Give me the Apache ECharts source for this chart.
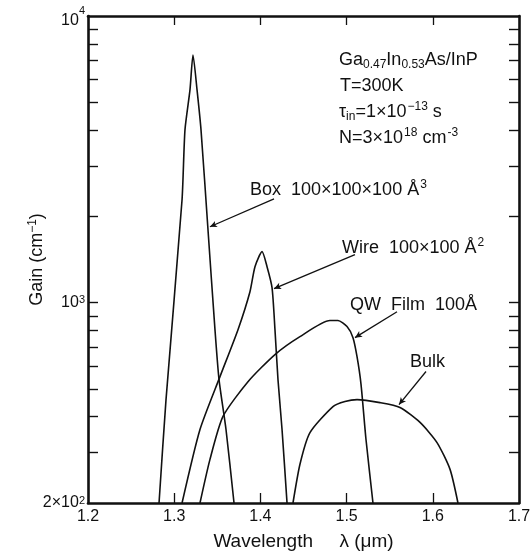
<!DOCTYPE html>
<html>
<head>
<meta charset="utf-8">
<script src="https://cdn.jsdelivr.net/npm/echarts@6/dist/echarts.min.js"></script>
<style>
html, body { margin: 0; padding: 0; background: #fff; }
#chart { width: 531px; height: 551px; }
</style>
</head>
<body>
<div id="chart"></div>
<script>
// Gain spectra, wavelength in µm, gain in cm^-1
const boxWavelength = [1.2824, 1.2905, 1.3091, 1.3125, 1.3183, 1.3218, 1.3265, 1.3311, 1.3392, 1.3473, 1.3520, 1.3601, 1.3694];
const boxGain       = [200, 459, 2285, 4006, 5522, 7310, 5522, 4006, 1796, 805, 539, 361, 200];

const wireWavelength = [1.3091, 1.3299, 1.3531, 1.3740, 1.3879, 1.3937, 1.4019, 1.4077, 1.4135, 1.4169, 1.4204, 1.4251, 1.4309];
const wireGain       = [200, 361, 552, 805, 1092, 1335, 1506, 1335, 1128, 805, 539, 361, 200];

const filmWavelength = [1.3299, 1.3415, 1.3566, 1.3856, 1.4169, 1.4459, 1.4807, 1.4900, 1.5005, 1.5074, 1.5121, 1.5167, 1.5225, 1.5306];
const filmGain       = [200, 284, 401, 530, 659, 761, 866, 866, 825, 755, 648, 520, 333, 200];

const bulkWavelength = [1.4378, 1.4459, 1.4575, 1.4842, 1.4981, 1.5121, 1.5387, 1.5619, 1.5852, 1.6049, 1.6200, 1.6292];
const bulkGain       = [200, 273, 352, 434, 452, 459, 448, 431, 382, 325, 262, 200];

// Axis ticks
const xTickValues = [1.2, 1.3, 1.4, 1.5, 1.6, 1.7];
const yTickValues = [200, 300, 400, 500, 600, 700, 800, 900, 1000, 2000, 3000, 4000, 5000, 6000, 7000, 8000, 9000, 10000];
const yLabelValues = [200, 1000, 10000];
const yLabelText = ['2×10{sup|2}', '10{sup|3}', '{low|10}{lowsup|4}'];

// Pointer lines from each caption to its curve: [tip, tail] as [λ, gain]
const boxPointer  = [[1.3415, 1840], [1.4158, 2303]];
const wirePointer = [[1.4158, 1119], [1.5097, 1470]];
const filmPointer = [[1.5097, 755],  [1.5585, 930]];
const bulkPointer = [[1.5608, 441],  [1.5921, 575]];

const FONT = 'Liberation Sans';
const INK = '#111';

function pairs(xs, ys) { return xs.map((x, i) => [x, ys[i]]); }

function pointer(p) {
  return {
    silent: true,
    symbol: ['arrow', 'none'],
    symbolSize: [5, 7],
    label: { show: false },
    lineStyle: { color: INK, width: 1.3, type: 'solid' },
    emphasis: { disabled: true },
    animation: false,
    data: [[{ coord: p[0] }, { coord: p[1] }]]
  };
}

function curve(name, xs, ys, p) {
  return {
    name: name,
    type: 'line',
    data: pairs(xs, ys),
    showSymbol: false,
    smooth: 0.22,
    clip: true,
    lineStyle: { color: INK, width: 1.6 },
    itemStyle: { color: INK },
    markLine: pointer(p),
    animation: false
  };
}

const CAP_SIZE = 18;
const SMALL = 12;

function caption(x, y, text) {
  return {
    type: 'text',
    x: x, y: y,
    style: {
      text: text,
      fontFamily: FONT, fontSize: CAP_SIZE, fill: INK,
      lineHeight: 22,
      verticalAlign: 'middle',
      rich: {
        sup: { fontFamily: FONT, fontSize: SMALL, verticalAlign: 'top', lineHeight: 11, fill: INK, padding: [0, 0, 0, 1] },
        sub: { fontFamily: FONT, fontSize: SMALL, verticalAlign: 'bottom', lineHeight: 11, fill: INK }
      }
    },
    silent: true
  };
}

const chart = echarts.init(document.getElementById('chart'), null, { renderer: 'canvas' });

const axisLineStyle = { color: INK, width: 2.6 };

chart.setOption({
  backgroundColor: '#fff',
  animation: false,
  grid: { left: 88, right: 12, top: 16, bottom: 48, containLabel: false, outerBoundsMode: 'none' },
  xAxis: [
    {
      type: 'value', position: 'bottom', min: 1.2, max: 1.7, interval: 0.1,
      axisLine: { show: true, onZero: false, lineStyle: axisLineStyle },
      axisTick: { show: true, inside: true, length: 10, lineStyle: { color: INK, width: 1.3 }, customValues: xTickValues.slice(1, -1) },
      axisLabel: {
        show: true, margin: 6, color: INK, fontFamily: FONT, fontSize: 16,
        customValues: xTickValues,
        formatter: v => v.toFixed(1)
      },
      splitLine: { show: false },
      name: 'Wavelength     λ (μm)', nameLocation: 'middle', nameGap: 29, nameMoveOverlap: false,
      nameTextStyle: { color: INK, fontFamily: FONT, fontSize: 19 }
    },
    {
      type: 'value', position: 'top', min: 1.2, max: 1.7, interval: 0.1,
      axisLine: { show: true, onZero: false, lineStyle: axisLineStyle },
      axisTick: { show: true, inside: true, length: 9, lineStyle: { color: INK, width: 1.3 }, customValues: xTickValues.slice(1, -1) },
      axisLabel: { show: false },
      splitLine: { show: false }
    }
  ],
  yAxis: [
    {
      type: 'log', logBase: 10, min: 200, max: 10000, position: 'left',
      axisLine: { show: true, onZero: false, lineStyle: axisLineStyle },
      axisTick: { show: true, inside: true, length: 10, lineStyle: { color: INK, width: 1.4 }, customValues: yTickValues.slice(1, -1) },
      axisLabel: {
        show: true, margin: 3, color: INK, fontFamily: FONT, fontSize: 16,
        customValues: yLabelValues,
        formatter: v => yLabelText[yLabelValues.indexOf(Math.round(v))] || '',
        rich: {
          sup: { fontFamily: FONT, fontSize: 11, verticalAlign: 'top', lineHeight: 11, color: INK },
          low: { fontFamily: FONT, fontSize: 16, color: INK, padding: [10, 0, 0, 0] },
          lowsup: { fontFamily: FONT, fontSize: 11, verticalAlign: 'top', lineHeight: 11, color: INK, padding: [2, 0, 0, 0] }
        }
      },
      splitLine: { show: false },
      minorTick: { show: false },
      name: 'Gain (cm{sup|−1})', nameLocation: 'middle', nameGap: 41, nameRotate: 90, nameMoveOverlap: false,
      nameTextStyle: {
        color: INK, fontFamily: FONT, fontSize: 18, lineHeight: 20,
        rich: { sup: { fontFamily: FONT, fontSize: 12, verticalAlign: 'top', lineHeight: 11, color: INK } }
      }
    },
    {
      type: 'log', logBase: 10, min: 200, max: 10000, position: 'right',
      axisLine: { show: true, onZero: false, lineStyle: axisLineStyle },
      axisTick: { show: true, inside: true, length: 10, lineStyle: { color: INK, width: 1.4 }, customValues: yTickValues.slice(1, -1) },
      axisLabel: { show: false },
      splitLine: { show: false }
    }
  ],
  series: [
    curve('Box', boxWavelength, boxGain, boxPointer),
    curve('Wire', wireWavelength, wireGain, wirePointer),
    curve('QW Film', filmWavelength, filmGain, filmPointer),
    curve('Bulk', bulkWavelength, bulkGain, bulkPointer)
  ],
  graphic: [
    caption(339, 60, 'Ga{sub|0.47}In{sub|0.53}As/InP'),
    caption(340, 86, 'T=300K'),
    caption(339, 112, 'τ{sub|in}=1×10{sup|−13} s'),
    caption(339, 138, 'N=3×10{sup|18} cm{sup|-3}'),
    caption(250, 190, 'Box  100×100×100 Å{sup|3}'),
    caption(342, 248, 'Wire  100×100 Å{sup|2}'),
    caption(350, 305, 'QW  Film  100Å'),
    caption(410, 362, 'Bulk')
  ]
});
</script>
</body>
</html>
